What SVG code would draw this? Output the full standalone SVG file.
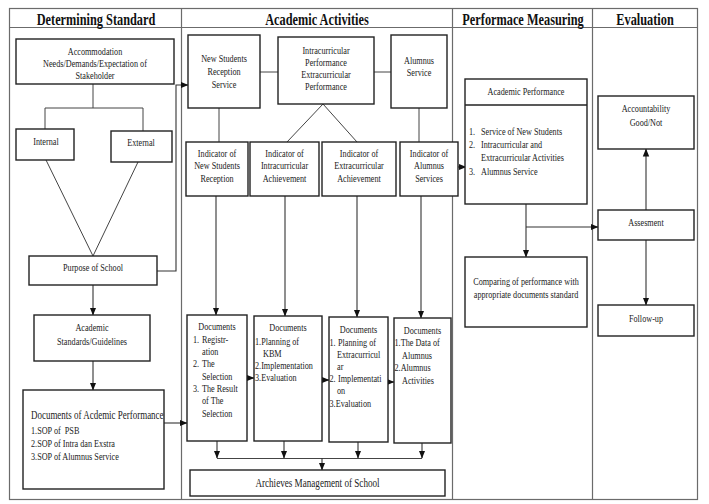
<svg xmlns="http://www.w3.org/2000/svg" width="709" height="504" viewBox="0 0 709 504">
<style>
.frame{fill:none;stroke:#6b6b6b;stroke-width:1.2}
.box{fill:#fff;stroke:#222;stroke-width:1.4}
.ln{fill:none;stroke:#444;stroke-width:1}
.ar{fill:none;stroke:#333;stroke-width:1.1;marker-end:url(#ah)}
.h{font-family:"Liberation Serif","Times New Roman",serif;font-size:16px;font-weight:bold;fill:#111;text-anchor:middle}
.t{font-family:"Liberation Serif","Times New Roman",serif;font-size:10.5px;fill:#222}
.c{text-anchor:middle}
</style>
<defs>
<marker id="ah" markerUnits="userSpaceOnUse" markerWidth="8" markerHeight="8" viewBox="0 0 8 8" refX="7.5" refY="4" orient="auto">
<path d="M0,0.8 L8,4 L0,7.2 Z" fill="#111"/>
</marker>
</defs>
<rect width="709" height="504" fill="#fff"/>
<g id="frame">
<rect class="frame" x="9.5" y="8.5" width="688" height="491"/>
<line class="frame" x1="9.5" y1="27.5" x2="697.5" y2="27.5"/>
<line class="frame" x1="181.5" y1="8.5" x2="181.5" y2="499.5"/>
<line class="frame" x1="452.5" y1="8.5" x2="452.5" y2="499.5"/>
<line class="frame" x1="592.5" y1="8.5" x2="592.5" y2="499.5"/>
<text class="h" transform="translate(96,24.5) scale(.77,1)">Determining Standard</text>
<text class="h" transform="translate(317,24.5) scale(.77,1)">Academic Activities</text>
<text class="h" transform="translate(523,24.5) scale(.77,1)">Performace Measuring</text>
<text class="h" transform="translate(645,24.5) scale(.77,1)">Evaluation</text>
</g>
<g id="connectors">
<polyline class="ln" points="93,84 93,108"/>
<polyline class="ln" points="45,129 45,108 143,108 143,131"/>
<polyline class="ln" points="46,160 93,256 138,162"/>
<polyline class="ar" points="157,271 176,271 176,85 188,85"/>
<line class="ar" x1="93" y1="285" x2="93" y2="315"/>
<line class="ar" x1="93" y1="361" x2="93" y2="390"/>
<line class="ar" x1="164" y1="423" x2="187" y2="423"/>
<line class="ln" x1="260" y1="72" x2="278" y2="72"/>
<line class="ln" x1="374" y1="72" x2="391" y2="72"/>
<line class="ln" x1="219" y1="108" x2="219" y2="142"/>
<polyline class="ln" points="287,142 323,104 357,142"/>
<line class="ln" x1="419" y1="108" x2="419" y2="142"/>
<line class="ar" x1="216" y1="196" x2="216" y2="315"/>
<line class="ar" x1="285" y1="196" x2="285" y2="316"/>
<line class="ar" x1="357" y1="196" x2="357" y2="317"/>
<line class="ar" x1="421" y1="196" x2="421" y2="318"/>
<line class="ar" x1="247" y1="378" x2="254" y2="378"/>
<line class="ar" x1="322" y1="380" x2="329" y2="380"/>
<line class="ar" x1="388" y1="382" x2="394" y2="382"/>
<line class="ar" x1="458" y1="167" x2="466" y2="167"/>
<line class="ar" x1="217" y1="441" x2="217" y2="458"/>
<line class="ar" x1="284" y1="441" x2="284" y2="458"/>
<line class="ar" x1="358" y1="442" x2="358" y2="458"/>
<line class="ar" x1="422" y1="443" x2="422" y2="458"/>
<line class="ln" x1="217" y1="458.5" x2="422" y2="458.5"/>
<line class="ar" x1="322" y1="458" x2="322" y2="470"/>
<line class="ar" x1="526" y1="204" x2="526" y2="257"/>
<line class="ar" x1="526" y1="227" x2="598" y2="227"/>
<line class="ar" x1="646" y1="210" x2="646" y2="149"/>
<line class="ar" x1="646" y1="240" x2="646" y2="305"/>
</g>
<g id="accommodation">
<rect class="box" x="16" y="39" width="158" height="45"/>
<text class="t c" transform="translate(95,55) scale(.78,1)">Accommodation</text>
<text class="t c" transform="translate(95,67) scale(.78,1)">Needs/Demands/Expectation of</text>
<text class="t c" transform="translate(95,79) scale(.78,1)">Stakeholder</text>
</g>
<g id="internal">
<rect class="box" x="16" y="129" width="58" height="31"/>
<text class="t c" transform="translate(46,144.5) scale(.78,1)">Internal</text>
</g>
<g id="external">
<rect class="box" x="111" y="131" width="61" height="31"/>
<text class="t c" transform="translate(141,146) scale(.78,1)">External</text>
</g>
<g id="purpose">
<rect class="box" x="29" y="256" width="128" height="29"/>
<text class="t c" transform="translate(93,271) scale(.78,1)">Purpose of School</text>
</g>
<g id="standards">
<rect class="box" x="34" y="315" width="116" height="46"/>
<text class="t c" transform="translate(92,331) scale(.78,1)">Academic</text>
<text class="t c" transform="translate(92,345) scale(.78,1)">Standards/Guidelines</text>
</g>
<g id="sop">
<rect class="box" x="23" y="390" width="141" height="99"/>
<text class="t" style="font-size:11.5px" transform="translate(31,419) scale(.78,1)">Documents of Acdemic Performance</text>
<text class="t" xml:space="preserve" transform="translate(31,434) scale(.78,1)">1.SOP of  PSB</text>
<text class="t" transform="translate(31,447) scale(.78,1)">2.SOP of Intra dan Exstra</text>
<text class="t" transform="translate(31,460) scale(.78,1)">3.SOP of Alumnus Service</text>
</g>
<g id="nsr-service">
<rect class="box" x="188" y="35" width="72" height="73"/>
<text class="t c" transform="translate(224,61.5) scale(.78,1)">New Students</text>
<text class="t c" transform="translate(224,74.5) scale(.78,1)">Reception</text>
<text class="t c" transform="translate(224,87.5) scale(.78,1)">Service</text>
</g>
<g id="intra-extra">
<rect class="box" x="278" y="37" width="96" height="67"/>
<text class="t c" transform="translate(326,53.5) scale(.78,1)">Intracurricular</text>
<text class="t c" transform="translate(326,65.5) scale(.78,1)">Performance</text>
<text class="t c" transform="translate(326,77.5) scale(.78,1)">Extracurricular</text>
<text class="t c" transform="translate(326,90) scale(.78,1)">Performance</text>
</g>
<g id="alumnus-service">
<rect class="box" x="391" y="35" width="56" height="73"/>
<text class="t c" transform="translate(419,63.5) scale(.78,1)">Alumnus</text>
<text class="t c" transform="translate(419,75.5) scale(.78,1)">Service</text>
</g>
<g id="ind-nsr">
<rect class="box" x="186" y="142" width="62" height="54"/>
<text class="t c" transform="translate(217,156.5) scale(.78,1)">Indicator of</text>
<text class="t c" transform="translate(217,169) scale(.78,1)">New Students</text>
<text class="t c" transform="translate(217,181.5) scale(.78,1)">Reception</text>
</g>
<g id="ind-intra">
<rect class="box" x="250" y="142" width="69" height="54"/>
<text class="t c" transform="translate(284.5,156.5) scale(.78,1)">Indicator of</text>
<text class="t c" transform="translate(284.5,169) scale(.78,1)">Intracurricular</text>
<text class="t c" transform="translate(284.5,181.5) scale(.78,1)">Achievement</text>
</g>
<g id="ind-extra">
<rect class="box" x="322" y="142" width="74" height="54"/>
<text class="t c" transform="translate(359,156.5) scale(.78,1)">Indicator of</text>
<text class="t c" transform="translate(359,169) scale(.78,1)">Extracurricular</text>
<text class="t c" transform="translate(359,181.5) scale(.78,1)">Achievement</text>
</g>
<g id="ind-alumnus">
<rect class="box" x="400" y="142" width="58" height="54"/>
<text class="t c" transform="translate(429,156.5) scale(.78,1)">Indicator of</text>
<text class="t c" transform="translate(429,169) scale(.78,1)">Alumnus</text>
<text class="t c" transform="translate(429,181.5) scale(.78,1)">Services</text>
</g>
<g id="doc-nsr">
<rect class="box" x="187" y="315" width="60" height="126"/>
<text class="t c" transform="translate(217,330) scale(.78,1)">Documents</text>
<text class="t" transform="translate(193,342.5) scale(.78,1)">1.</text>
<text class="t" transform="translate(202,342.5) scale(.78,1)">Registr-</text>
<text class="t" transform="translate(202,355) scale(.78,1)">ation</text>
<text class="t" transform="translate(193,367) scale(.78,1)">2.</text>
<text class="t" transform="translate(202,367) scale(.78,1)">The</text>
<text class="t" transform="translate(202,379.5) scale(.78,1)">Selection</text>
<text class="t" transform="translate(193,391.5) scale(.78,1)">3.</text>
<text class="t" transform="translate(202,391.5) scale(.78,1)">The Result</text>
<text class="t" transform="translate(202,403.5) scale(.78,1)">of The</text>
<text class="t" transform="translate(202,416.5) scale(.78,1)">Selection</text>
</g>
<g id="doc-intra">
<rect class="box" x="254" y="316" width="68" height="125"/>
<text class="t c" transform="translate(288,331) scale(.78,1)">Documents</text>
<text class="t" transform="translate(255,344.5) scale(.78,1)">1.Planning of</text>
<text class="t" transform="translate(263,356.5) scale(.78,1)">KBM</text>
<text class="t" transform="translate(255,368.5) scale(.78,1)">2.Implementation</text>
<text class="t" transform="translate(255,380.5) scale(.78,1)">3.Evaluation</text>
</g>
<g id="doc-extra">
<rect class="box" x="329" y="317" width="59" height="125"/>
<text class="t c" transform="translate(358.5,332.5) scale(.78,1)">Documents</text>
<text class="t" transform="translate(329.5,345.5) scale(.78,1)">1.</text>
<text class="t" transform="translate(338,345.5) scale(.78,1)">Planning of</text>
<text class="t" transform="translate(337,357.5) scale(.78,1)">Extracurricul</text>
<text class="t" transform="translate(337,369.5) scale(.78,1)">ar</text>
<text class="t" transform="translate(329.5,381.5) scale(.78,1)">2.</text>
<text class="t" transform="translate(338,381.5) scale(.78,1)">Implementati</text>
<text class="t" transform="translate(337,393.5) scale(.78,1)">on</text>
<text class="t" transform="translate(329.5,406.5) scale(.78,1)">3.Evaluation</text>
</g>
<g id="doc-alumnus">
<rect class="box" x="394" y="318" width="57" height="125"/>
<text class="t c" transform="translate(422.5,333.5) scale(.78,1)">Documents</text>
<text class="t" transform="translate(394.5,345.5) scale(.78,1)">1.The Data of</text>
<text class="t" transform="translate(402,358.5) scale(.78,1)">Alumnus</text>
<text class="t" transform="translate(394.5,370.5) scale(.78,1)">2.Alumnus</text>
<text class="t" transform="translate(402,383.5) scale(.78,1)">Activities</text>
</g>
<g id="archieves">
<rect class="box" x="190" y="470" width="255" height="26"/>
<text class="t c" style="font-size:12px" transform="translate(317.5,487) scale(.76,1)">Archieves Management of School</text>
</g>
<g id="academic-performance">
<rect class="box" x="465" y="79" width="122" height="125"/>
<line class="box" x1="465" y1="105" x2="587" y2="105"/>
<text class="t c" transform="translate(526,95) scale(.78,1)">Academic Performance</text>
<text class="t" transform="translate(469,134.5) scale(.78,1)">1.</text>
<text class="t" transform="translate(481,134.5) scale(.78,1)">Service of New Students</text>
<text class="t" transform="translate(469,147.5) scale(.78,1)">2.</text>
<text class="t" transform="translate(481,147.5) scale(.78,1)">Intracurricular and</text>
<text class="t" transform="translate(481,160.5) scale(.78,1)">Extracurricular Activities</text>
<text class="t" transform="translate(469,174.5) scale(.78,1)">3.</text>
<text class="t" transform="translate(481,174.5) scale(.78,1)">Alumnus Service</text>
</g>
<g id="comparing">
<rect class="box" x="465" y="257" width="122" height="70"/>
<text class="t c" transform="translate(526,285) scale(.78,1)">Comparing of performance with</text>
<text class="t c" transform="translate(526,297.5) scale(.78,1)">appropriate documents standard</text>
</g>
<g id="accountability">
<rect class="box" x="598" y="96" width="96" height="53"/>
<text class="t c" transform="translate(646,112) scale(.78,1)">Accountability</text>
<text class="t c" transform="translate(646,125.5) scale(.78,1)">Good/Not</text>
</g>
<g id="assesment">
<rect class="box" x="598" y="210" width="96" height="30"/>
<text class="t c" transform="translate(646,226) scale(.78,1)">Assesment</text>
</g>
<g id="follow-up">
<rect class="box" x="598" y="305" width="96" height="31"/>
<text class="t c" transform="translate(646,322) scale(.78,1)">Follow-up</text>
</g>
</svg>
